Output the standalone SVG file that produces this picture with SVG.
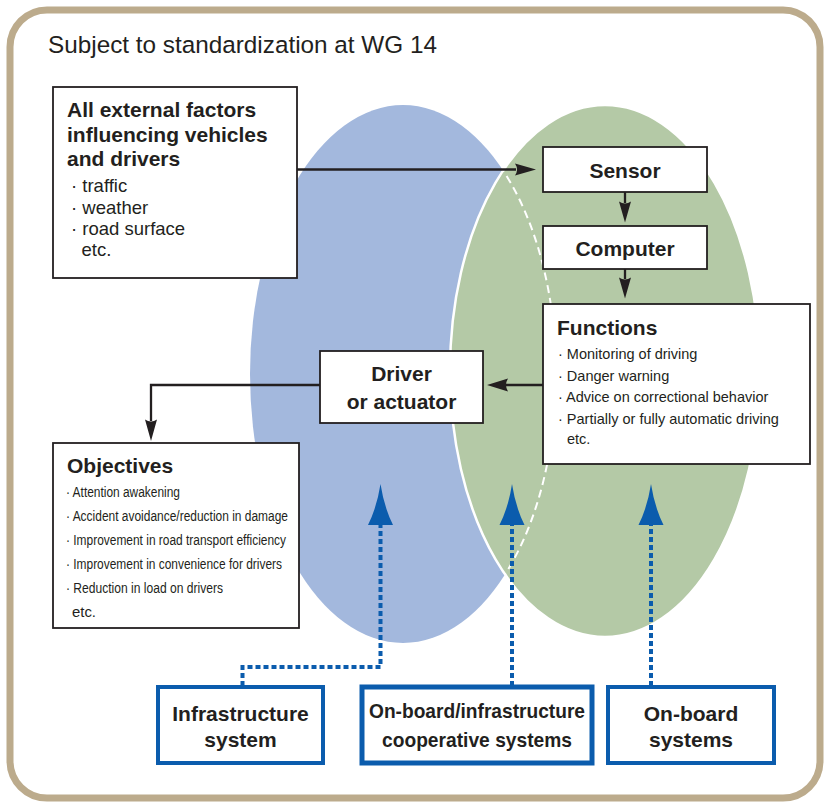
<svg xmlns="http://www.w3.org/2000/svg" width="826" height="803" viewBox="0 0 826 803">
<defs>
<style>
text{font-family:"Liberation Sans",Arial,sans-serif;fill:#231f20}
.b{font-weight:bold;font-size:21px}
.h{font-weight:bold;font-size:21px}
.m{font-size:18.5px}
.f{font-size:14.5px}
.o{font-size:14px}
.c{text-anchor:middle}
.box{fill:#fff;stroke:#231f20;stroke-width:1.8}
.bbox{fill:#fff;stroke:#0b5cad;stroke-width:4}
.ln{fill:none;stroke:#231f20;stroke-width:2.3}
.ah{fill:#231f20}
.dl{fill:none;stroke:#0b5cad;stroke-width:4;stroke-dasharray:5 3}
.bah{fill:#0b5cad}
</style>
<clipPath id="gclip"><ellipse cx="605" cy="371" rx="155" ry="266"/></clipPath>
</defs>
<rect x="10" y="10" width="810" height="788" rx="37" ry="37" fill="#fff" stroke="#bcab8c" stroke-width="7"/>
<text x="48" y="53" style="font-size:24.3px">Subject to standardization at WG 14</text>
<g id="ellipses">
<ellipse cx="403" cy="374" rx="153" ry="269" fill="#a3b8dd"/>
<ellipse cx="605" cy="371" rx="155" ry="266" fill="#b4c9a6" stroke="#fff" stroke-width="2.5"/>
<ellipse cx="403" cy="374" rx="153" ry="269" fill="none" stroke="#fff" stroke-width="2" stroke-dasharray="8 5" clip-path="url(#gclip)"/>
</g>
<g id="connectors">
<path class="ln" d="M297 169.5H516"/>
<path class="ah" d="M536 169.5L515 163.5Q519 169.5 515 175.5Z"/>
<path class="ln" d="M625 192V203"/>
<path class="ah" d="M625 222.5L619 201.5Q625 205.5 631 201.5Z"/>
<path class="ln" d="M625 269V279"/>
<path class="ah" d="M625 298.5L619 277.5Q625 281.5 631 277.5Z"/>
<path class="ln" d="M543 385H506"/>
<path class="ah" d="M487 385L508 378.5Q504 385 508 391.5Z"/>
<path class="ln" d="M320 385H151V421"/>
<path class="ah" d="M151 441L145 419.5Q151 423.5 157 419.5Z"/>
<path class="dl" d="M242.5 686V667H380.5V521"/>
<path class="bah" d="M380.5 484Q384 507 393 525L368 525Q377 507 380.5 484Z"/>
<path class="dl" d="M512 686V521"/>
<path class="bah" d="M512 484Q515.5 507 524.5 525L499.5 525Q508.5 507 512 484Z"/>
<path class="dl" d="M651 686V521"/>
<path class="bah" d="M651 484Q654.5 507 663.5 525L638.5 525Q647.5 507 651 484Z"/>
</g>
<g id="external">
<rect class="box" x="53" y="87" width="244" height="191"/>
<text class="h" x="67" y="117">All external factors</text>
<text class="h" x="67" y="141.5">influencing vehicles</text>
<text class="h" x="67" y="166">and drivers</text>
<text class="m" x="71" y="192">· traffic</text>
<text class="m" x="71" y="213.5">· weather</text>
<text class="m" x="71" y="235">· road surface</text>
<text class="m" x="81.5" y="256">etc.</text>
</g>
<g id="sensor">
<rect class="box" x="543" y="147" width="164" height="45"/>
<text class="b c" x="625" y="178">Sensor</text>
</g>
<g id="computer">
<rect class="box" x="543" y="226" width="164" height="43"/>
<text class="b c" x="625" y="256">Computer</text>
</g>
<g id="functions">
<rect class="box" x="543" y="304" width="267" height="160"/>
<text class="b" x="557" y="335">Functions</text>
<text class="f" x="558" y="359">· Monitoring of driving</text>
<text class="f" x="558" y="380.5">· Danger warning</text>
<text class="f" x="558" y="402">· Advice on correctional behavior</text>
<text class="f" x="558" y="423.5">· Partially or fully automatic driving</text>
<text class="f" x="567" y="443.5">etc.</text>
</g>
<g id="driver">
<rect class="box" x="320" y="351" width="163" height="72"/>
<text class="b c" x="401.5" y="381">Driver</text>
<text class="b c" x="401.5" y="409">or actuator</text>
</g>
<g id="objectives">
<rect class="box" x="53" y="443" width="246" height="185"/>
<text class="b" x="67" y="473">Objectives</text>
<text class="o" x="66" y="497" textLength="114" lengthAdjust="spacingAndGlyphs">· Attention awakening</text>
<text class="o" x="66" y="521" textLength="222" lengthAdjust="spacingAndGlyphs">· Accident avoidance/reduction in damage</text>
<text class="o" x="66" y="544.5" textLength="220" lengthAdjust="spacingAndGlyphs">· Improvement in road transport efficiency</text>
<text class="o" x="66" y="568.5" textLength="216" lengthAdjust="spacingAndGlyphs">· Improvement in convenience for drivers</text>
<text class="o" x="66" y="592.5" textLength="157" lengthAdjust="spacingAndGlyphs">· Reduction in load on drivers</text>
<text class="o" x="72" y="617" textLength="24" lengthAdjust="spacingAndGlyphs">etc.</text>
</g>
<g id="infrastructure">
<rect class="bbox" x="158" y="687" width="165" height="76"/>
<text class="b c" x="240.5" y="720.5">Infrastructure</text>
<text class="b c" x="240.5" y="746.5">system</text>
</g>
<g id="cooperative">
<rect class="bbox" x="362" y="687" width="230" height="76" style="stroke-width:5"/>
<text class="b c" x="477" y="718" textLength="216" lengthAdjust="spacingAndGlyphs">On-board/infrastructure</text>
<text class="b c" x="477" y="746.5" textLength="190" lengthAdjust="spacingAndGlyphs">cooperative systems</text>
</g>
<g id="onboard">
<rect class="bbox" x="608" y="687" width="166" height="76"/>
<text class="b c" x="691" y="720.5">On-board</text>
<text class="b c" x="691" y="746.5">systems</text>
</g>
</svg>
